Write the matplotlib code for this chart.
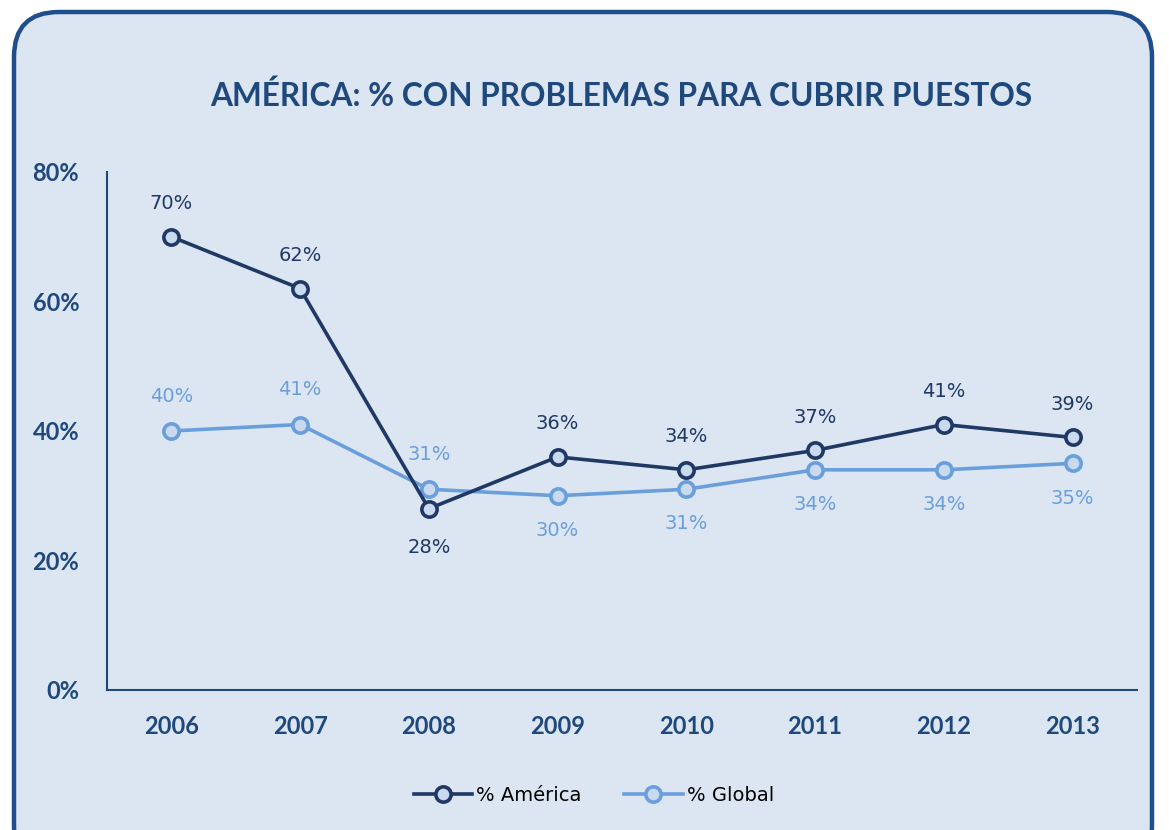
import matplotlib
matplotlib.use('Agg')
import matplotlib.pyplot as plt
from matplotlib.patches import FancyBboxPatch

# data
years = ['2006', '2007', '2008', '2009', '2010', '2011', '2012', '2013']
america = [70, 62, 28, 36, 34, 37, 41, 39]
global_pct = [40, 41, 31, 30, 31, 34, 34, 35]
# label placement: 1 = above point, -1 = below point
america_pos = [1, 1, -1, 1, 1, 1, 1, 1]
global_pos = [1, 1, 1, -1, -1, -1, -1, -1]

dark = '#203864'
light = '#6A9FDB'
face = '#C9DAF0'
bg = '#DCE6F2'
text_col = '#1F497D'

fig = plt.figure(figsize=(11.69, 8.3), dpi=100, facecolor='white')

# rounded frame behind the chart
frame = FancyBboxPatch((0.14, -0.4), 11.38, 8.58,
                       boxstyle='round,pad=0,rounding_size=0.45',
                       transform=fig.dpi_scale_trans,
                       facecolor=bg, edgecolor='#1F4E8C', linewidth=3.2, zorder=-5)
fig.patches.append(frame)

ax = fig.add_axes([0.0915, 0.1687, 0.8811, 0.6241])
ax.set_facecolor('none')
ax.set_zorder(2)

x = range(len(years))
ax.plot(x, america, color=dark, lw=2.6, marker='o', ms=11, mfc=face,
        mec=dark, mew=2.6, label='% América', zorder=4)
ax.plot(x, global_pct, color=light, lw=2.6, marker='o', ms=11, mfc=face,
        mec=light, mew=2.6, label='% Global', zorder=3)

for i, v in enumerate(america):
    off = 24 if america_pos[i] > 0 else -28
    ax.annotate(f'{v}%', (i, v), xytext=(0, off), textcoords='offset points',
                ha='center', va='center', color=dark, fontsize=14, family='DejaVu Sans')
for i, v in enumerate(global_pct):
    off = 25 if global_pos[i] > 0 else -25
    ax.annotate(f'{v}%', (i, v), xytext=(0, off), textcoords='offset points',
                ha='center', va='center', color=light, fontsize=14, family='DejaVu Sans')

ax.set_xlim(-0.5, 7.5)
ax.set_ylim(0, 80)
ax.set_yticks([0, 20, 40, 60, 80])
ax.set_yticklabels(['0%', '20%', '40%', '60%', '80%'])
ax.set_xticks(list(x))
ax.set_xticklabels(years)
for lab in ax.get_xticklabels() + ax.get_yticklabels():
    lab.set_fontweight('bold')
    lab.set_family('Lato')
    lab.set_fontsize(17)
    lab.set_color(text_col)
ax.tick_params(axis='both', length=0)
ax.tick_params(axis='x', pad=18)
ax.tick_params(axis='y', pad=20)

for s in ['top', 'right']:
    ax.spines[s].set_visible(False)
ax.spines['left'].set_color(text_col)
ax.spines['bottom'].set_color(text_col)
ax.spines['left'].set_linewidth(1.5)
ax.spines['bottom'].set_linewidth(1.5)

fig.text(0.531, 0.885, 'AMÉRICA: % CON PROBLEMAS PARA CUBRIR PUESTOS',
         ha='center', va='center', fontsize=22.8, fontweight='bold',
         family='Lato', color=text_col)

leg = fig.legend(loc='center', bbox_to_anchor=(0.508, 0.042), ncol=2, frameon=False,
                 prop={'family': 'DejaVu Sans', 'size': 14}, handlelength=3.0,
                 columnspacing=2.2, handletextpad=0.2)

fig.savefig('out.png', dpi=100, facecolor='white')
